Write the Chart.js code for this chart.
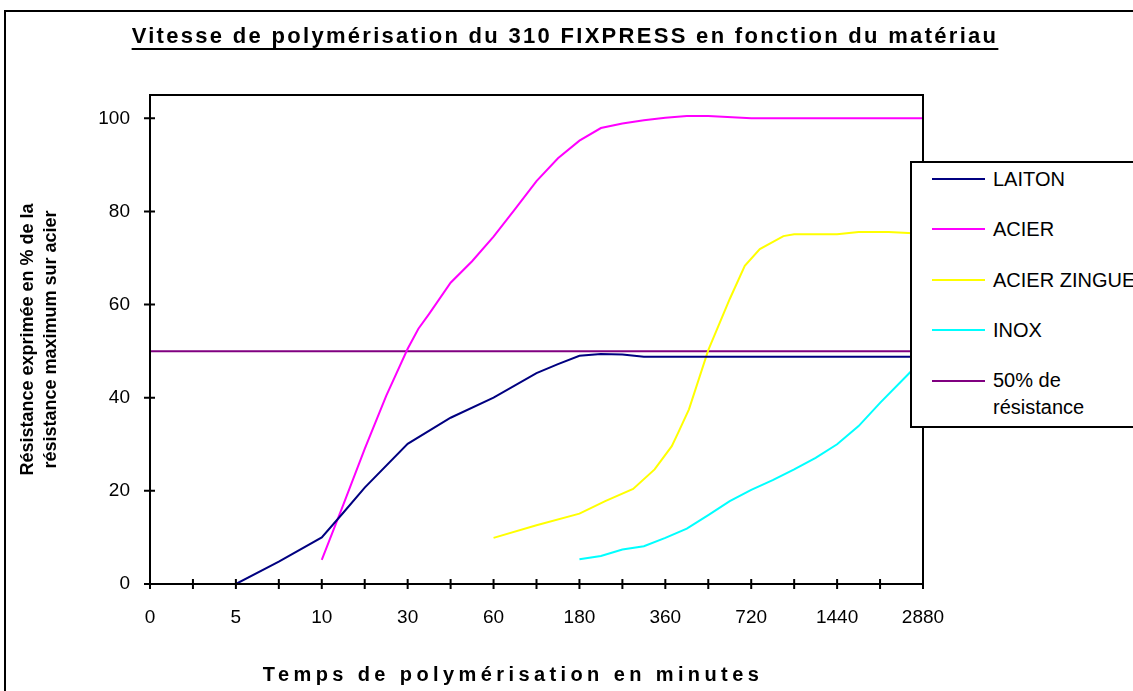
<!DOCTYPE html>
<html>
<head>
<meta charset="utf-8">
<script src="https://cdn.jsdelivr.net/npm/chart.js@4.4.0/dist/chart.umd.min.js"></script>
<style>
body{margin:0;background:#fff;overflow:hidden;font-family:"Liberation Sans",Arial,sans-serif;color:#000;}
#wrap{position:relative;width:1133px;height:691px;overflow:hidden;}
#c{position:absolute;left:0;top:0;}
#title{position:absolute;left:565px;top:24px;transform:translateX(-50%);white-space:nowrap;font-weight:bold;font-size:22px;line-height:24px;letter-spacing:2.3px;text-decoration:underline;text-decoration-thickness:2px;text-underline-offset:5px;}
#xtitle{position:absolute;left:513px;top:663px;transform:translateX(-50%);white-space:nowrap;font-weight:bold;font-size:20px;line-height:22px;letter-spacing:4.4px;}
#legend{position:absolute;left:910px;top:161px;width:300px;height:267px;box-sizing:border-box;border:2px solid #000;background:#fff;}
.item{position:absolute;left:0;width:290px;font-size:20px;}
.item .ln{position:absolute;left:20px;width:53px;height:2px;}
.item .tx{position:absolute;left:81px;white-space:nowrap;}
</style>
</head>
<body>
<div id="wrap">
<canvas id="c" width="1133" height="691"></canvas>
<div id="title">Vitesse de polymérisation du 310 FIXPRESS en fonction du matériau</div>
<div id="xtitle">Temps de polymérisation en minutes</div>
<div id="legend"></div>
</div>
<script>
// x positions are in tick steps: label k sits at step 2k
const xLabels = ['0','5','10','30','60','180','360','720','1440','2880'];

const laitonX = [2, 3, 4, 4.5, 5, 6, 7, 8, 9, 9.5, 10, 10.5, 11, 11.5, 12, 18];
const laitonY = [0, 4.8, 10, 15.3, 20.7, 30.1, 35.7, 40, 45.3, 47.2, 49, 49.4, 49.3, 48.8, 48.8, 48.8];

const acierX = [4, 4.5, 5, 5.5, 6, 6.25, 6.5, 7, 7.5, 8, 8.5, 9, 9.5, 10, 10.5, 11, 11.5, 12, 12.5, 13, 14, 18];
const acierY = [5.2, 17, 29, 40.4, 50.5, 54.8, 58, 64.7, 69.3, 74.6, 80.5, 86.5, 91.4, 95.2, 97.9, 98.9, 99.6, 100.1, 100.5, 100.5, 100, 100];

const zingueX = [8, 9, 10, 10.6, 11.25, 11.75, 12.15, 12.3, 12.55, 13, 13.5, 13.85, 14.2, 14.75, 15, 16, 16.5, 17.2, 18];
const zingueY = [9.9, 12.6, 15.1, 17.8, 20.4, 24.6, 29.6, 32.5, 37.5, 50.2, 61.2, 68.3, 71.9, 74.7, 75.1, 75.1, 75.6, 75.6, 75.2];

const inoxX = [10, 10.5, 11, 11.5, 12, 12.5, 13, 13.5, 14, 14.5, 15, 15.5, 16, 16.5, 17, 17.65, 18];
const inoxY = [5.3, 6.0, 7.4, 8.1, 9.9, 11.9, 14.8, 17.8, 20.2, 22.3, 24.6, 27.1, 30, 33.9, 38.9, 45, 48.3];

const halfX = [0, 18];
const halfY = [50, 50];

function pts(xs, ys){ return xs.map((x, i) => ({x: x, y: ys[i]})); }

const datasets = [
  {label: 'LAITON', data: pts(laitonX, laitonY), borderColor: '#000080'},
  {label: 'ACIER', data: pts(acierX, acierY), borderColor: '#ff00ff'},
  {label: 'ACIER ZINGUE', data: pts(zingueX, zingueY), borderColor: '#ffff00'},
  {label: 'INOX', data: pts(inoxX, inoxY), borderColor: '#00ffff'},
  {label: '50% de résistance', data: pts(halfX, halfY), borderColor: '#800080'}
];

const frame = {
  id: 'frame',
  beforeDraw(chart){
    const ctx = chart.ctx;
    ctx.save();
    ctx.fillStyle = '#fff';
    ctx.fillRect(0, 0, chart.width, chart.height);
    ctx.strokeStyle = '#000';
    ctx.lineWidth = 2;
    ctx.strokeRect(5, 11, 2000, 2000);
    ctx.restore();
  },
  afterDatasetsDraw(chart){
    const {ctx, chartArea: a, scales} = chart;
    ctx.save();
    ctx.strokeStyle = '#000';
    ctx.lineWidth = 2;
    ctx.strokeRect(a.left, a.top, a.right - a.left, a.bottom - a.top);
    ctx.beginPath();
    scales.x.ticks.forEach(t => {
      const px = scales.x.getPixelForValue(t.value);
      ctx.moveTo(px, a.bottom - 5); ctx.lineTo(px, a.bottom + 5);
    });
    scales.y.ticks.forEach(t => {
      const py = scales.y.getPixelForValue(t.value);
      ctx.moveTo(a.left - 6, py); ctx.lineTo(a.left + 5, py);
    });
    ctx.stroke();
    ctx.restore();
  }
};

const chart = new Chart(document.getElementById('c'), {
  type: 'line',
  data: {datasets: datasets},
  plugins: [frame],
  options: {
    responsive: false,
    animation: false,
    devicePixelRatio: 1,
    layout: {padding: {left: 0, right: 210, top: 95, bottom: 0}},
    elements: {
      point: {radius: 0},
      line: {borderWidth: 2, tension: 0}
    },
    plugins: {legend: {display: false}, title: {display: false}, tooltip: {enabled: false}},
    scales: {
      x: {
        type: 'linear', min: 0, max: 18,
        grid: {display: false, drawTicks: false},
        border: {display: false},
        ticks: {
          stepSize: 1, maxTicksLimit: 40, autoSkip: false, maxRotation: 0,
          padding: 22, color: '#000',
          font: {family: '"Liberation Sans", Arial', size: 19},
          callback: v => (v % 2 === 0 ? xLabels[v / 2] : '')
        },
        afterFit: s => { s.height = 107; }
      },
      y: {
        min: 0, max: 105,
        grid: {display: false, drawTicks: false},
        border: {display: false},
        ticks: {
          stepSize: 20, includeBounds: false, padding: 20, color: '#000',
          font: {family: '"Liberation Sans", Arial', size: 19}
        },
        title: {
          display: true, color: '#000',
          text: ['Résistance exprimée en % de la', 'résistance maximum sur acier'],
          font: {family: '"Liberation Sans", Arial', size: 18, weight: 'bold', lineHeight: 1.25},
          padding: {top: 17, bottom: 0}
        },
        afterFit: s => { s.width = 150; }
      }
    }
  }
});

// legend drawn as html so it can sit over the right edge of the plot
const legend = document.getElementById('legend');
chart.data.datasets.forEach((d, i) => {
  const rowY = 179 + i * 50.4 - 163;
  const last = i === chart.data.datasets.length - 1;
  const lh = last ? 27 : 24;
  const it = document.createElement('div');
  it.className = 'item';
  it.style.top = (rowY - lh / 2) + 'px';
  it.style.lineHeight = lh + 'px';
  it.innerHTML = '<div class="ln" style="top:' + (lh / 2 - 1) + 'px;background:' + d.borderColor + '"></div>' +
    '<div class="tx"' + (last ? ' style="white-space:normal;width:120px"' : '') + '>' + d.label + '</div>';
  legend.appendChild(it);
});
</script>
</body>
</html>
